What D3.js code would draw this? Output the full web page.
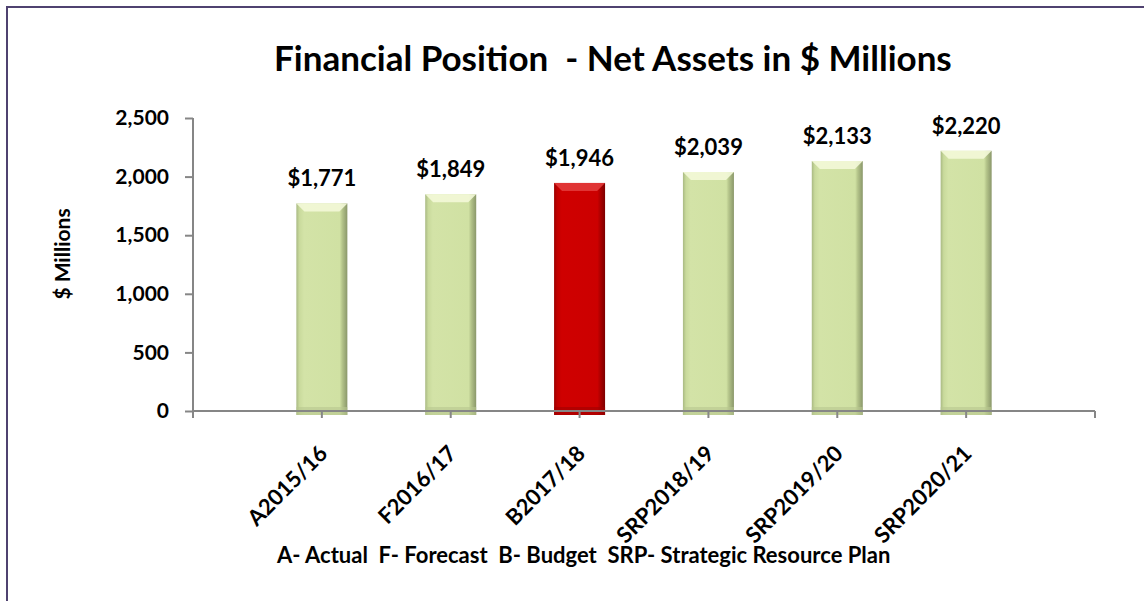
<!DOCTYPE html>
<html>
<head>
<meta charset="utf-8">
<script src="https://cdn.jsdelivr.net/npm/d3@7"></script>
<style>
  body { margin: 0; background: #fff; }
  text { font-family: Lato, 'Open Sans', sans-serif; font-weight: bold; fill: #000; }
</style>
</head>
<body>
<svg id="chart" width="1144" height="601"></svg>
<script>
var categories = ['A2015/16', 'F2016/17', 'B2017/18', 'SRP2018/19', 'SRP2019/20', 'SRP2020/21']
var netAssets = [1771, 1849, 1946, 2039, 2133, 2220]
var highlight = ['B2017/18']
var yTicks = [0, 500, 1000, 1500, 2000, 2500]
var titleText = 'Financial Position  - Net Assets in $ Millions'
var footerText = 'A- Actual  F- Forecast  B- Budget  SRP- Strategic Resource Plan'

var svg = d3.select('#chart')

// frame (only top and left edges are visible)
svg.append('path')
   .attr('d', 'M7,601 V7 H1144')
   .attr('fill', 'none')
   .attr('stroke', '#4f4270')
   .attr('stroke-width', 2)

var plot = { left: 193, right: 1095, top: 118, bottom: 411 }

var x = d3.scalePoint()
          .domain(categories)
          .range([plot.left, plot.right])
          .padding(1)

var y = d3.scaleLinear()
          .domain([0, 2500])
          .range([plot.bottom, plot.top])

var barW = 51

// gradients for the bevelled bars
var defs = svg.append('defs')
var makeGrad = function (id, stops) {
  var g = defs.append('linearGradient').attr('id', id)
              .attr('x1', '0').attr('x2', '1').attr('y1', '0').attr('y2', '0')
  stops.forEach(s => g.append('stop').attr('offset', s[0]).attr('stop-color', s[1]))
}
makeGrad('gGreen', [[0, '#a9b983'], [0.06, '#c9da9c'], [0.15, '#d3e3a7'], [0.85, '#d0e1a3'], [0.9, '#b4c48a'], [1, '#8a976a']])
makeGrad('gRed', [[0, '#9c0000'], [0.06, '#c00000'], [0.15, '#cf0000'], [0.85, '#cc0000'], [0.9, '#b00000'], [1, '#7d0000']])

var isHi = d => highlight.indexOf(d.cat) >= 0
var data = categories.map((c, i) => ({ cat: c, val: netAssets[i] }))

var bars = svg.append('g').attr('class', 'bars')

bars.selectAll('rect.bar')
    .data(data)
    .enter()
    .append('rect')
    .attr('class', 'bar')
    .attr('x', d => x(d.cat) - barW / 2)
    .attr('y', d => y(d.val))
    .attr('width', barW)
    .attr('height', d => y(0) - y(d.val) + 4)
    .attr('fill', d => isHi(d) ? 'url(#gRed)' : 'url(#gGreen)')

// top bevel highlight
bars.selectAll('path.bevel')
    .data(data)
    .enter()
    .append('path')
    .attr('class', 'bevel')
    .attr('d', d => {
      var l = x(d.cat) - barW / 2, r = l + barW, t = y(d.val)
      return 'M' + l + ',' + t + ' H' + r + ' L' + (r - 8) + ',' + (t + 8) + ' H' + (l + 8) + ' Z'
    })
    .attr('fill', d => isHi(d) ? '#e23a3a' : '#f3f8d8')
    .attr('opacity', 0.9)

// bottom shade
bars.selectAll('rect.shade')
    .data(data)
    .enter()
    .append('rect')
    .attr('class', 'shade')
    .attr('x', d => x(d.cat) - barW / 2)
    .attr('y', y(0) - 4)
    .attr('width', barW)
    .attr('height', 8)
    .attr('fill', d => isHi(d) ? '#a00000' : '#b7c690')
    .attr('opacity', 0.6)

// y axis
var yAxis = svg.append('g')
               .attr('transform', 'translate(' + plot.left + ',0)')
               .call(d3.axisLeft(y).tickValues(yTicks).tickSize(8).tickPadding(16).tickFormat(d3.format(',')))
yAxis.selectAll('path, line').attr('stroke', '#868686').attr('stroke-width', 2)
yAxis.select('.domain').attr('d', 'M0,' + plot.top + ' V' + plot.bottom)
yAxis.selectAll('text')
     .style('font-family', 'Lato, sans-serif')
     .style('font-weight', 'bold')
     .style('font-size', '21px')
     .attr('fill', '#000')

// x axis: ticks at both ends and at each category
var xAxisG = svg.append('g').attr('transform', 'translate(0,' + plot.bottom + ')')
xAxisG.append('line')
      .attr('x1', plot.left).attr('x2', plot.right)
      .attr('stroke', '#868686').attr('stroke-width', 2)
var xTickPos = [plot.left].concat(categories.map(c => x(c))).concat([plot.right])
xAxisG.selectAll('line.tick')
      .data(xTickPos)
      .enter()
      .append('line')
      .attr('class', 'tick')
      .attr('x1', d => d).attr('x2', d => d)
      .attr('y1', 0).attr('y2', 7)
      .attr('stroke', '#868686').attr('stroke-width', 2)

xAxisG.selectAll('text.lbl')
      .data(categories)
      .enter()
      .append('text')
      .attr('class', 'lbl')
      .attr('text-anchor', 'end')
      .attr('transform', d => 'translate(' + (x(d) + 7) + ',44) rotate(-45)')
      .style('font-size', '22px')
      .text(d => d)

// value labels
svg.append('g')
   .selectAll('text')
   .data(data)
   .enter()
   .append('text')
   .attr('x', d => x(d.cat))
   .attr('y', d => y(d.val) - 17)
   .attr('text-anchor', 'middle')
   .style('font-size', '22px')
   .text(d => '$' + d3.format(',')(d.val))

// title
svg.append('text')
   .attr('x', 274)
   .attr('y', 71)
   .style('font-size', '35px')
   .style('white-space', 'pre')
   .text(titleText)

// y axis title
svg.append('text')
   .attr('transform', 'translate(70,254) rotate(-90)')
   .attr('text-anchor', 'middle')
   .style('font-size', '21px')
   .text('$ Millions')

// footer legend
svg.append('text')
   .attr('x', 277)
   .attr('y', 563)
   .style('font-size', '22px')
   .style('white-space', 'pre')
   .text(footerText)
</script>
</body>
</html>
